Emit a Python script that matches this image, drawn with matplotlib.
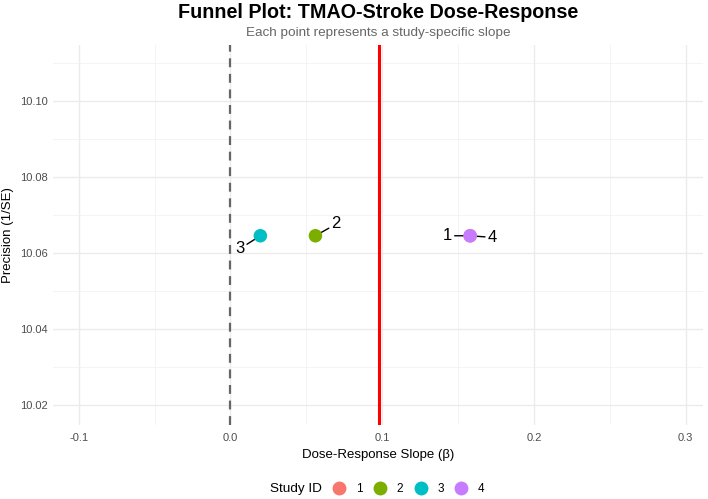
import numpy as np
import matplotlib
matplotlib.use('Agg')
import matplotlib.pyplot as plt
from matplotlib.lines import Line2D

plt.rc('font', family='Liberation Sans')

# study-specific slopes and precision (1/SE)
study_id = ['1', '2', '3', '4']
slope = [0.158, 0.056, 0.0197, 0.158]
precision = [10.0645, 10.0645, 10.0645, 10.0645]
colors = ['#F8766D', '#7CAE00', '#00BFC4', '#C77CFF']
# label offsets (points) like ggrepel put them
lab_off = [(-16.5, 0), (15, 8.5), (-15, -9.5), (16, -1.2)]

pooled = np.mean(slope)

fig = plt.figure(figsize=(7.08, 4.99), dpi=100)
ax = fig.add_axes([53/708, 1 - 425/499, 650/708, 380/499])

ax.set_xlim(-0.117, 0.3115)
ax.set_ylim(10.0147, 10.1147)

ax.set_xticks([-0.1, 0.0, 0.1, 0.2, 0.3])
ax.set_xticklabels(['-0.1', '0.0', '0.1', '0.2', '0.3'])
ax.set_xticks([-0.05, 0.05, 0.15, 0.25], minor=True)
ax.set_yticks([10.02, 10.04, 10.06, 10.08, 10.10])
ax.set_yticklabels(['10.02', '10.04', '10.06', '10.08', '10.10'])
ax.set_yticks([10.03, 10.05, 10.07, 10.09, 10.11], minor=True)
ax.grid(which='major', color='#EBEBEB', lw=1.0)
ax.grid(which='minor', color='#F2F2F2', lw=0.6)
ax.set_axisbelow(True)
for s in ax.spines.values():
    s.set_visible(False)
ax.tick_params(which='both', length=0, labelsize=8, labelcolor='#4D4D4D')
ax.tick_params(axis='x', pad=6)
ax.tick_params(axis='y', pad=4)

ax.axvline(0, color='#666666', ls=(0, (4, 3)), lw=1.6, zorder=2)
ax.axvline(pooled, color='#FF0000', lw=2.2, zorder=2)

for i in range(len(slope)):
    ax.scatter(slope[i], precision[i], s=95, color=colors[i], zorder=5, edgecolors='none')
for i in range(len(slope)):
    ax.annotate(study_id[i], (slope[i], precision[i]), xytext=lab_off[i],
                textcoords='offset points', ha='center', va='center', fontsize=12,
                arrowprops=dict(arrowstyle='-', color='black', lw=1.0, shrinkA=0, shrinkB=0),
                zorder=4)

ax.set_xlabel('Dose-Response Slope (β)', fontsize=9.5, labelpad=4)
ax.set_ylabel('Precision (1/SE)', fontsize=9.5, labelpad=4)

fig.text(378/708, 1 - 13/499, 'Funnel Plot: TMAO-Stroke Dose-Response', ha='center', va='center',
         fontsize=14.2, fontweight='bold')
fig.text(378/708, 1 - 33/499, 'Each point represents a study-specific slope', ha='center',
         va='center', fontsize=9.7, color='#666666')

handles = [Line2D([], [], marker='o', ls='', color=c, markersize=10, markeredgewidth=0) for c in colors]
fig.text(296/708, 1 - 489/499, 'Study ID', ha='center', va='center', fontsize=9.7)
fig.legend(handles, study_id, loc='center left', bbox_to_anchor=(332/708, 1 - 489/499), ncol=4,
           frameon=False, fontsize=8.5, handlelength=1.2, handletextpad=0.82, columnspacing=0.88,
           borderpad=0, borderaxespad=0)

fig.savefig('out.png', dpi=100)
